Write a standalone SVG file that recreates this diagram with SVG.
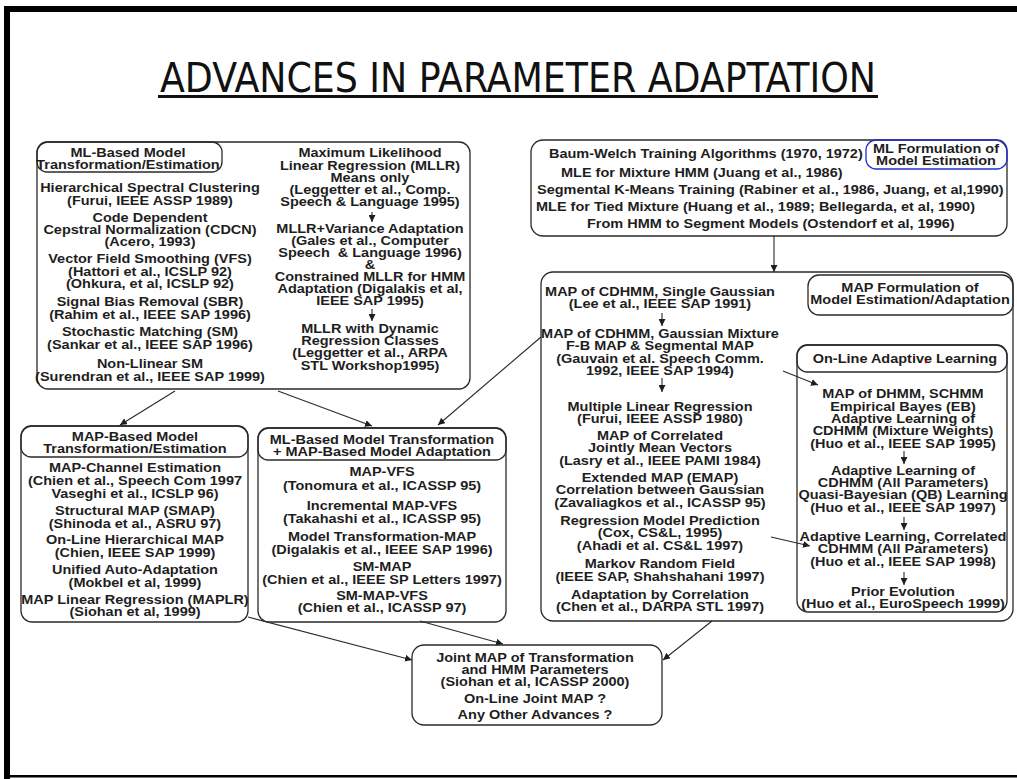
<svg xmlns="http://www.w3.org/2000/svg" width="1017" height="779" viewBox="0 0 1017 779">
<style>
.t{font-family:"Liberation Sans",Arial,sans-serif;font-weight:bold;font-size:12.5px;fill:#1e1e1e;text-anchor:middle}
.s{text-anchor:start}
.box{fill:none;stroke:#2a2a2a;stroke-width:1.3}
.blue{fill:none;stroke:#1f2fd0;stroke-width:1.3}
.c{fill:none;stroke:#2a2a2a;stroke-width:1.1;marker-end:url(#ah)}
.d{fill:none;stroke:#2a2a2a;stroke-width:1.1;marker-end:url(#ah)}
.title{font-family:"DejaVu Sans","Liberation Sans",sans-serif;font-stretch:condensed;font-size:40px;fill:#111;text-anchor:start}
</style>
<defs>
<marker id="ah" viewBox="0 0 10 10" refX="10" refY="5" markerWidth="7" markerHeight="7" markerUnits="userSpaceOnUse" orient="auto">
<path d="M0,0 L10,5 L0,10 z" fill="#1e1e1e"/>
</marker>
</defs>
<rect width="1017" height="779" fill="#fff"/>
<g id="frame">
<rect x="4" y="6" width="1013" height="6" fill="#000"/>
<rect x="4" y="6" width="6" height="773" fill="#000"/>
<rect x="4" y="775" width="1013" height="2.5" fill="#000"/>
</g>
<g id="title">
<text class="title" x="160" y="92" textLength="716" lengthAdjust="spacingAndGlyphs">ADVANCES IN PARAMETER ADAPTATION</text>
<rect x="158" y="95" width="720" height="3" fill="#111"/>
</g>

<g id="connectors">
<line class="c" x1="774" y1="236" x2="774" y2="272"/>
<line class="c" x1="175" y1="391" x2="120" y2="425"/>
<line class="c" x1="278" y1="391" x2="372" y2="426"/>
<line class="c" x1="541" y1="337" x2="438" y2="425"/>
<line class="c" x1="248" y1="617" x2="412" y2="660"/>
<line class="c" x1="420" y1="621" x2="503" y2="644"/>
<line class="c" x1="712" y1="621" x2="663" y2="660"/>
<line class="c" x1="783" y1="371" x2="818" y2="385"/>
<line class="c" x1="771" y1="537" x2="810" y2="546"/>
<line class="d" x1="372" y1="212" x2="372" y2="222"/>
<line class="d" x1="372" y1="309" x2="372" y2="321"/>
<line class="d" x1="662" y1="313" x2="662" y2="326"/>
<line class="d" x1="662" y1="378" x2="662" y2="392"/>
<line class="d" x1="904" y1="451" x2="904" y2="464"/>
<line class="d" x1="904" y1="517" x2="904" y2="530"/>
<line class="d" x1="904" y1="572" x2="904" y2="585"/>
</g>

<g id="boxA">
<rect class="box" x="37" y="142" width="433" height="247" rx="11"/>
<rect class="box" x="37" y="142" width="185" height="30" rx="10"/>
<g transform="matrix(1.16,0,0,1,-20.48,0)">
<text class="t" x="128" y="157">ML-Based Model</text>
<text class="t" x="128" y="169">Transformation/Estimation</text>
</g>
<g transform="matrix(1.16,0,0,1,-24,0)">
<text class="t" x="150" y="192">Hierarchical Spectral Clustering</text>
<text class="t" x="150" y="205">(Furui, IEEE ASSP 1989)</text>
<text class="t" x="150" y="222">Code Dependent</text>
<text class="t" x="150" y="234">Cepstral Normalization (CDCN)</text>
<text class="t" x="150" y="246">(Acero, 1993)</text>
<text class="t" x="150" y="263">Vector Field Smoothing (VFS)</text>
<text class="t" x="150" y="276">(Hattori et al., ICSLP 92)</text>
<text class="t" x="150" y="288">(Ohkura, et al, ICSLP 92)</text>
<text class="t" x="150" y="306">Signal Bias Removal (SBR)</text>
<text class="t" x="150" y="319">(Rahim et al., IEEE SAP 1996)</text>
<text class="t" x="150" y="336">Stochastic Matching (SM)</text>
<text class="t" x="150" y="349">(Sankar et al., IEEE SAP 1996)</text>
<text class="t" x="150" y="368">Non-Llinear SM</text>
<text class="t" x="150" y="381">(Surendran et al., IEEE SAP 1999)</text>
</g>
<g transform="matrix(1.16,0,0,1,-59.2,0)">
<text class="t" x="370" y="157">Maximum Likelihood</text>
<text class="t" x="370" y="170">Linear Regression (MLLR)</text>
<text class="t" x="370" y="182">Means only</text>
<text class="t" x="370" y="194">(Leggetter et al., Comp.</text>
<text class="t" x="370" y="206">Speech &amp; Language 1995)</text>
<text class="t" x="370" y="233">MLLR+Variance Adaptation</text>
<text class="t" x="370" y="245">(Gales et al., Computer</text>
<text class="t" x="370" y="257" xml:space="preserve">Speech  &amp; Language 1996)</text>
<text class="t" x="370" y="269">&amp;</text>
<text class="t" x="370" y="281">Constrained MLLR for HMM</text>
<text class="t" x="370" y="293">Adaptation (Digalakis et al,</text>
<text class="t" x="370" y="305">IEEE SAP 1995)</text>
<text class="t" x="370" y="333">MLLR with Dynamic</text>
<text class="t" x="370" y="345">Regression Classes</text>
<text class="t" x="370" y="357">(Leggetter et al., ARPA</text>
<text class="t" x="370" y="370">STL Workshop1995)</text>
</g>
</g>

<g id="boxB">
<rect class="box" x="531" y="140" width="476" height="96" rx="12"/>
<rect class="blue" x="866" y="140" width="141" height="29" rx="10"/>
<g transform="matrix(1.16,0,0,1,-149.76,0)">
<text class="t" x="936" y="153">ML Formulation of</text>
<text class="t" x="936" y="165">Model Estimation</text>
</g>
<text class="t s" x="549" y="158" transform="matrix(1.16,0,0,1,-87.84,0)">Baum-Welch Training Algorithms (1970, 1972)</text>
<text class="t s" x="561" y="177" transform="matrix(1.16,0,0,1,-89.76,0)">MLE for Mixture HMM (Juang et al., 1986)</text>
<text class="t s" x="537" y="194" transform="matrix(1.16,0,0,1,-85.92,0)">Segmental K-Means Training (Rabiner et al., 1986, Juang, et al,1990)</text>
<text class="t s" x="536" y="211" transform="matrix(1.16,0,0,1,-85.76,0)">MLE for Tied Mixture (Huang et al., 1989; Bellegarda, et al, 1990)</text>
<text class="t s" x="587" y="228" transform="matrix(1.16,0,0,1,-93.92,0)">From HMM to Segment Models (Ostendorf et al, 1996)</text>
</g>

<g id="boxC">
<rect class="box" x="541" y="272" width="472" height="349" rx="12"/>
<rect class="box" x="808" y="275" width="205" height="40" rx="11"/>
<g transform="matrix(1.16,0,0,1,-145.6,0)">
<text class="t" x="910" y="292">MAP Formulation of</text>
<text class="t" x="910" y="304">Model Estimation/Adaptation</text>
</g>
<g transform="matrix(1.16,0,0,1,-105.6,0)">
<text class="t" x="660" y="296">MAP of CDHMM, Single Gaussian</text>
<text class="t" x="660" y="308">(Lee et al., IEEE SAP 1991)</text>
<text class="t" x="660" y="338">MAP of CDHMM, Gaussian Mixture</text>
<text class="t" x="660" y="350">F-B MAP &amp; Segmental MAP</text>
<text class="t" x="660" y="363">(Gauvain et al. Speech Comm.</text>
<text class="t" x="660" y="375">1992, IEEE SAP 1994)</text>
<text class="t" x="660" y="411">Multiple Linear Regression</text>
<text class="t" x="660" y="423">(Furui, IEEE ASSP 1980)</text>
<text class="t" x="660" y="440">MAP of Correlated</text>
<text class="t" x="660" y="452">Jointly Mean Vectors</text>
<text class="t" x="660" y="465">(Lasry et al., IEEE PAMI 1984)</text>
<text class="t" x="660" y="482">Extended MAP (EMAP)</text>
<text class="t" x="660" y="494">Correlation between Gaussian</text>
<text class="t" x="660" y="507">(Zavaliagkos et al., ICASSP 95)</text>
<text class="t" x="660" y="525">Regression Model Prediction</text>
<text class="t" x="660" y="537">(Cox, CS&amp;L, 1995)</text>
<text class="t" x="660" y="550">(Ahadi et al. CS&amp;L 1997)</text>
<text class="t" x="660" y="568">Markov Random Field</text>
<text class="t" x="660" y="581">(IEEE SAP, Shahshahani 1997)</text>
<text class="t" x="660" y="599">Adaptation by Correlation</text>
<text class="t" x="660" y="611">(Chen et al., DARPA STL 1997)</text>
</g>
</g>

<g id="boxD">
<rect class="box" x="797" y="345" width="210" height="267" rx="11"/>
<rect class="box" x="797" y="345" width="210" height="27" rx="10"/>
<g transform="matrix(1.16,0,0,1,-144.8,0)">
<text class="t" x="905" y="363">On-Line Adaptive Learning</text>
</g>
<circle cx="926" cy="362" r="1.3" fill="#e00000"/>
<g transform="matrix(1.16,0,0,1,-144.48,0)">
<text class="t" x="903" y="398">MAP of DHMM, SCHMM</text>
<text class="t" x="903" y="411">Empirical Bayes (EB)</text>
<text class="t" x="903" y="423">Adaptive Learning of</text>
<text class="t" x="903" y="435">CDHMM (Mixture Weights)</text>
<text class="t" x="903" y="448">(Huo et al., IEEE SAP 1995)</text>
<text class="t" x="903" y="475">Adaptive Learning of</text>
<text class="t" x="903" y="487">CDHMM (All Parameters)</text>
<text class="t" x="903" y="499">Quasi-Bayesian (QB) Learning</text>
<text class="t" x="903" y="512">(Huo et al., IEEE SAP 1997)</text>
<text class="t" x="903" y="541">Adaptive Learning, Correlated</text>
<text class="t" x="903" y="553">CDHMM (All Parameters)</text>
<text class="t" x="903" y="566">(Huo et al., IEEE SAP 1998)</text>
<text class="t" x="903" y="596">Prior Evolution</text>
<text class="t" x="903" y="608">(Huo et al., EuroSpeech 1999)</text>
</g>
</g>

<g id="boxE">
<rect class="box" x="21" y="426" width="227" height="196" rx="11"/>
<rect class="box" x="21" y="426" width="227" height="31" rx="10"/>
<g transform="matrix(1.16,0,0,1,-21.6,0)">
<text class="t" x="135" y="441">MAP-Based Model</text>
<text class="t" x="135" y="453">Transformation/Estimation</text>
<text class="t" x="135" y="472">MAP-Channel Estimation</text>
<text class="t" x="135" y="485">(Chien et al., Speech Com 1997</text>
<text class="t" x="135" y="498">Vaseghi et al., ICSLP 96)</text>
<text class="t" x="135" y="515">Structural MAP (SMAP)</text>
<text class="t" x="135" y="528">(Shinoda et al., ASRU 97)</text>
<text class="t" x="135" y="544">On-Line Hierarchical MAP</text>
<text class="t" x="135" y="557">(Chien, IEEE SAP 1999)</text>
<text class="t" x="135" y="574">Unified Auto-Adaptation</text>
<text class="t" x="135" y="587">(Mokbel et al, 1999)</text>
<text class="t" x="135" y="604">MAP Linear Regression (MAPLR)</text>
<text class="t" x="135" y="616">(Siohan et al, 1999)</text>
</g>
</g>

<g id="boxF">
<rect class="box" x="258" y="428" width="248" height="194" rx="11"/>
<rect class="box" x="258" y="428" width="248" height="32" rx="10"/>
<g transform="matrix(1.16,0,0,1,-61.12,0)">
<text class="t" x="382" y="444">ML-Based Model Transformation</text>
<text class="t" x="382" y="456">+ MAP-Based Model Adaptation</text>
<text class="t" x="382" y="476">MAP-VFS</text>
<text class="t" x="382" y="490">(Tonomura et al., ICASSP 95)</text>
<text class="t" x="382" y="510">Incremental MAP-VFS</text>
<text class="t" x="382" y="523">(Takahashi et al., ICASSP 95)</text>
<text class="t" x="382" y="541">Model Transformation-MAP</text>
<text class="t" x="382" y="554">(Digalakis et al., IEEE SAP 1996)</text>
<text class="t" x="382" y="571">SM-MAP</text>
<text class="t" x="382" y="584">(Chien et al., IEEE SP Letters 1997)</text>
<text class="t" x="382" y="600">SM-MAP-VFS</text>
<text class="t" x="382" y="612">(Chien et al., ICASSP 97)</text>
</g>
</g>

<g id="boxG">
<rect class="box" x="412" y="645" width="250" height="80" rx="12"/>
<g transform="matrix(1.16,0,0,1,-85.6,0)">
<text class="t" x="535" y="662">Joint MAP of Transformation</text>
<text class="t" x="535" y="674">and HMM Parameters</text>
<text class="t" x="535" y="686">(Siohan et al, ICASSP 2000)</text>
<text class="t" x="535" y="703">On-Line Joint MAP ?</text>
<text class="t" x="535" y="719">Any Other Advances ?</text>
</g>
</g>
</svg>
